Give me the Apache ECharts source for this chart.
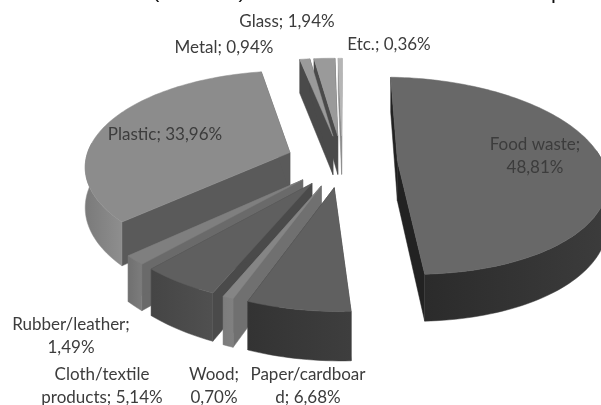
<!DOCTYPE html>
<html><head><meta charset="utf-8">
<style>html,body{margin:0;padding:0;background:#fff}#c{width:601px;height:405px;filter:blur(0.55px)}</style>
<script src="https://cdn.jsdelivr.net/npm/echarts@6/dist/echarts.min.js"></script>
</head><body><div id="c"></div>
<script>
var categories=['Food waste','Paper/cardboard','Wood','Cloth/textile products','Rubber/leather','Plastic','Metal','Glass','Etc.'];
var values=[48.81,6.68,0.70,5.14,1.49,33.96,0.94,1.94,0.36];
var titleLeft='(%, 2011),';
var titleRight='p';

// presentation
var labelText=['Food waste;|48,81%','Paper/cardboar|d; 6,68%','Wood;|0,70%','Cloth/textile|products; 5,14%','Rubber/leather;|1,49%','Plastic; 33,96%','Metal; 0,94%','Glass; 1,94%','Etc.; 0,36%'];
var labelAt=[[535,156],[308,386],[214,386],[102,386],[71,336],[165,135],[224,48],[287,22],[389,45]];
var topCol=['#686868','#606060','#858585','#5f5f5f','#7f7f7f','#8c8c8c','#9a9a9a','#9a9a9a','#b5b5b5'];
var faceCol=['#222222','#3a3a3a','#707070','#4a4a4a','#6a6a6a','#5a5a5a','#4a4a4a','#4a4a4a','#888888'];
var wallCol=[['#3c3c3c','#2b2b2b'],['#3e3e3e','#333333'],['#808080','#7c7c7c'],['#505050','#454545'],['#7c7c7c','#707070'],['#8e8e8e','#7a7a7a'],['#555','#555'],['#555','#555'],['#999','#999']];

var vx=298,baseX=0.215,cy=161,S=205,b=0.47,k=0.15,dep=0.195,expl=0.27,rot=2;
var total=values.reduce(function(a,c){return a+c;},0);
var rad=Math.PI/180;
function proj(X,Y,low){var w=1-k*Y;return [vx+S*(baseX+X)/w,cy+S*b*Y/w+(low?S*dep/w:0)];}
var slices=[],acc=rot;
values.forEach(function(v,i){var a0=acc,a1=acc+v/total*360;acc=a1;slices.push({i:i,a0:a0,a1:a1,mid:(a0+a1)/2});});
function pt(s,ang,r,low){var ex=expl*Math.sin(s.mid*rad),ey=-expl*Math.cos(s.mid*rad);
  return proj(ex+r*Math.sin(ang*rad),ey-r*Math.cos(ang*rad),low);}
var order=slices.slice().sort(function(p,q){return Math.cos(q.mid*rad)-Math.cos(p.mid*rad);});
function poly(points,fill,stroke){return {type:'polygon',shape:{points:points},style:{fill:fill,stroke:stroke||fill,lineWidth:0.5}};}
function renderSlice(params,api){
  var s=order[api.value(0)],i=s.i,ch=[];
  var c0=pt(s,s.a0,0,false),c1=pt(s,s.a0,0,true);
  [s.a0,s.a1].forEach(function(a){
    ch.push(poly([c0,pt(s,a,1,false),pt(s,a,1,true),c1],faceCol[i]));
  });
  var N=Math.max(3,Math.ceil((s.a1-s.a0)/1.5)),top=[c0],up=[],lo=[];
  for(var n=0;n<=N;n++){var a=s.a0+(s.a1-s.a0)*n/N;top.push(pt(s,a,1,false));
    if(Math.cos(a*rad)<0.12){up.push(pt(s,a,1,false));lo.push(pt(s,a,1,true));}}
  if(up.length>1){
    var xs=up.concat(lo).map(function(p){return p[0];});
    var g=new echarts.graphic.LinearGradient(Math.min.apply(null,xs),0,Math.max.apply(null,xs),0,
      [{offset:0,color:wallCol[i][1]},{offset:1,color:wallCol[i][0]}],true);
    ch.push(poly(up.concat(lo.reverse()),g,wallCol[i][0]));
  }
  ch.push(poly(top,topCol[i]));
  return {type:'group',children:ch};
}
var labels=labelText.map(function(t,i){return {type:'text',x:labelAt[i][0],y:labelAt[i][1],z:10,
  style:{text:t.split('|').join('\n'),align:'center',verticalAlign:'middle',lineHeight:23,
    font:'17px Lato, "Open Sans", sans-serif',fill:'#3c3c3c'}};});
labels.push({type:'text',x:152,y:-20,z:10,style:{text:titleLeft,font:'22px "Liberation Sans"',fill:'#111'}});
labels.push({type:'text',x:551,y:-19,z:10,style:{text:titleRight,font:'22px "Liberation Sans"',fill:'#111'}});
var chart=echarts.init(document.getElementById('c'),null,{renderer:'canvas',width:601,height:405});
chart.setOption({animation:false,backgroundColor:'#fff',
  graphic:{elements:labels},
  series:[{type:'custom',coordinateSystem:'none',renderItem:renderSlice,silent:true,
    data:order.map(function(_,n){return [n];})}]});
</script></body></html>
